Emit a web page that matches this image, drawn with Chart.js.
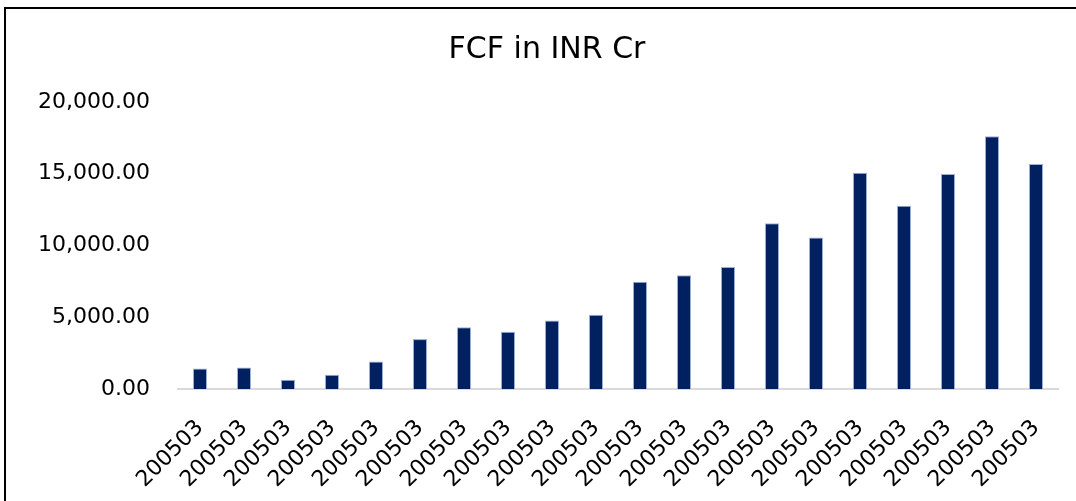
<!DOCTYPE html>
<html>
<head>
<meta charset="utf-8">
<script src="https://cdn.jsdelivr.net/npm/chart.js@4"></script>
<style>
  html, body { margin: 0; padding: 0; background: #fff; }
  #wrap { position: relative; width: 1076px; height: 501px; }
  #frame {
    position: absolute; left: 4px; top: 7px; right: 0; bottom: -4px;
    border-top: 2px solid #000; border-left: 2px solid #000;
    pointer-events: none;
  }
</style>
</head>
<body>
<div id="wrap">
  <canvas id="fcfChart" width="1076" height="501"></canvas>
  <div id="frame"></div>
</div>
<script>
const periods = ['200503', '200503', '200503', '200503', '200503', '200503', '200503',
    '200503', '200503', '200503', '200503', '200503', '200503', '200503',
    '200503', '200503', '200503', '200503', '200503', '200503'];
const fcf = [1425, 1494, 643, 989, 1909, 3479, 4308, 3983, 4772, 5166,
    7469, 7932, 8506, 11549, 10560, 15076, 12773, 14986, 17614, 15678];
const yTicks = [0, 5000, 10000, 15000, 20000];

const font = 'DejaVu Sans';

const ctx = document.getElementById('fcfChart').getContext('2d');
new Chart(ctx, {
    type: 'bar',
    data: {
        labels: periods,
        datasets: [{
            label: 'FCF',
            data: fcf,
            backgroundColor: '#002060',
            borderColor: '#9fb0d6',
            borderWidth: 1,
            categoryPercentage: 1,
            barPercentage: 0.32
        }]
    },
    options: {
        responsive: false,
        animation: false,
        layout: { padding: { left: 18, right: 0, top: 0, bottom: 0 } },
        plugins: {
            legend: { display: false },
            tooltip: { enabled: false },
            title: {
                display: true,
                text: 'FCF in INR Cr',
                color: '#000',
                font: { family: font, size: 30, weight: 'normal' },
                padding: { top: 32, bottom: 34 }
            }
        },
        scales: {
            x: {
                grid: { display: false, drawTicks: false },
                border: { display: true, color: '#d9d9d9', width: 2 },
                ticks: {
                    color: '#000',
                    font: { family: font, size: 22 },
                    minRotation: 45,
                    maxRotation: 45,
                    autoSkip: false,
                    padding: 26
                },
                afterFit: s => {
                    s.height = 112;
                    s.paddingLeft = 0;
                    s.paddingRight = 18;
                }
            },
            y: {
                min: 0,
                max: 20000,
                afterBuildTicks: s => { s.ticks = yTicks.map(v => ({ value: v })); },
                grid: { display: false, drawTicks: false },
                border: { display: false },
                ticks: {
                    color: '#000',
                    font: { family: font, size: 22 },
                    padding: 28,
                    callback: v => v.toLocaleString('en-US', { minimumFractionDigits: 2, maximumFractionDigits: 2 })
                },
                afterFit: s => { s.width = 160; }
            }
        }
    }
});
</script>
</body>
</html>
